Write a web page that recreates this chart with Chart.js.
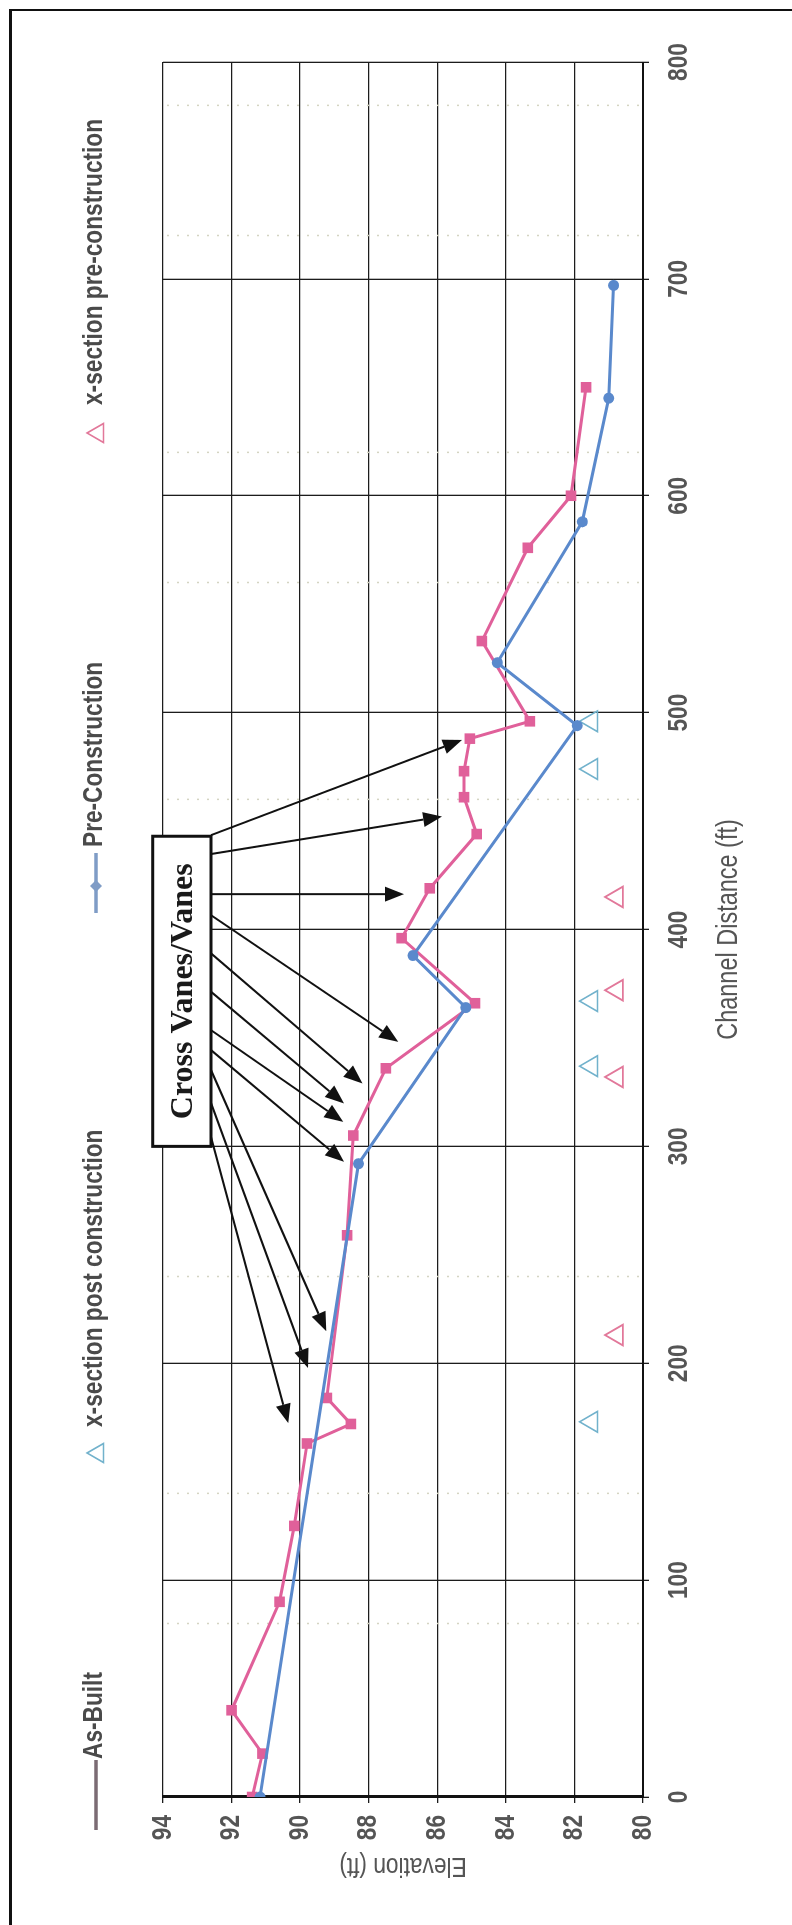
<!DOCTYPE html>
<html>
<head>
<meta charset="utf-8">
<script src="https://cdn.jsdelivr.net/npm/chart.js@4.4.1/dist/chart.umd.min.js"></script>
<style>
  html, body { margin: 0; padding: 0; background: #fff; }
  body { width: 792px; height: 1925px; position: relative; overflow: hidden; }
  #frame { position: absolute; left: 9px; top: 9px; width: 800px; height: 1930px;
           border-left: 3px solid #111; border-top: 2.5px solid #111; }
  /* the profile is laid out landscape and turned a quarter turn counter-clockwise */
  #wrap { position: absolute; left: 0; top: 0; width: 1925px; height: 792px;
          transform-origin: 0 0; transform: translate(0, 1925px) rotate(-90deg); }
</style>
</head>
<body>
<div id="frame"></div>
<div id="wrap"><canvas id="c" width="1925" height="792"></canvas></div>
<script>
// Channel distance (ft) and elevation (ft) axes
const distTicks = [0, 100, 200, 300, 400, 500, 600, 700, 800];
const elevTicks = [80, 82, 84, 86, 88, 90, 92, 94];

// As-Built thalweg profile
const asBuiltDist = [0, 20, 40, 90, 125, 163, 172, 184, 259, 305, 336, 366, 396, 419, 444, 461, 473, 488, 496, 533, 576, 600, 650];
const asBuiltElev = [91.4, 91.1, 92.0, 90.6, 90.17, 89.8, 88.52, 89.22, 88.63, 88.45, 87.5, 84.9, 87.04, 86.22, 84.85, 85.22, 85.22, 85.05, 83.3, 84.7, 83.36, 82.1, 81.66];

// Pre-Construction thalweg profile
const preDist = [0, 292, 364, 388, 494, 523, 588, 645, 697];
const preElev = [91.17, 88.3, 85.17, 86.71, 81.92, 84.25, 81.77, 81.0, 80.86];

// Cross-section locations
const postXsDist = [173, 337, 367, 474, 496];
const postXsElev = [81.5, 81.5, 81.5, 81.5, 81.5];
const preXsDist = [213, 332, 372, 415];
const preXsElev = [80.76, 80.76, 80.76, 80.76];

// faint dotted reference lines across the plot
const faintDist = [80, 140, 240, 460, 560, 620, 720, 780];

// "Cross Vanes/Vanes" call-out box and its leader arrows
const vaneBoxDist = [300, 443];
const vaneBoxElev = [94.3, 92.6];
const vaneFromDist = [443.5, 434.8, 416.3, 406.6, 389, 371.3, 353.6, 344.4, 335.2, 320, 304.3];
const vaneToDist = [487.4, 452.1, 416.3, 348.2, 329, 319.8, 311.3, 292.9, 214.8, 197.8, 172.4];
const vaneToElev = [85.28, 85.86, 86.97, 87.14, 88.18, 88.72, 88.74, 88.72, 89.24, 89.77, 90.35];

const SANS = '"Liberation Sans", Arial, sans-serif';
const SERIF = '"Liberation Serif", "Times New Roman", serif';
const CONDENSE = 0.81;   // sans labels are set narrow

const PINK = '#e0609a';
const BLUE = '#5a89cc';
const TEAL = '#72b2cc';
const PINK_TRI = '#e2789a';

const pts = (xs, ys) => xs.map((x, i) => ({ x: x, y: ys[i] }));

const legendItems = [
  { label: 'As-Built', kind: 'line', color: '#7b6b73', at: 95, len: 70, text: 166 },
  { label: 'x-section post construction', kind: 'tri', color: TEAL, at: 472, text: 498 },
  { label: 'Pre-Construction', kind: 'lineDot', color: '#7f9cc6', at: 1012, len: 60, text: 1078 },
  { label: 'x-section pre-construction', kind: 'tri', color: PINK_TRI, at: 1492, text: 1520 }
];

function triangle(ctx, cx, cy, r) {
  ctx.beginPath();
  ctx.moveTo(cx, cy - r);
  ctx.lineTo(cx + r * 0.866, cy + r * 0.5);
  ctx.lineTo(cx - r * 0.866, cy + r * 0.5);
  ctx.closePath();
}

// narrow rendering of the sans-serif labels (scaled along the text direction)
const condensePlugin = {
  id: 'condense',
  beforeInit(chart) {
    const ctx = chart.ctx;
    const orig = ctx.fillText.bind(ctx);
    ctx.fillText = function (text, x, y, maxWidth) {
      if (ctx.font.indexOf('Liberation Sans') < 0) {
        return maxWidth === undefined ? orig(text, x, y) : orig(text, x, y, maxWidth);
      }
      ctx.save();
      ctx.translate(x, y);
      ctx.scale(CONDENSE, 1);
      if (maxWidth === undefined) orig(text, 0, 0); else orig(text, 0, 0, maxWidth / CONDENSE);
      ctx.restore();
    };
  }
};

const legendPlugin = {
  id: 'sideLegend',
  afterDraw(chart) {
    const ctx = chart.ctx;
    const v = 94;
    ctx.save();
    legendItems.forEach(it => {
      ctx.strokeStyle = it.color;
      ctx.fillStyle = it.color;
      if (it.kind === 'line' || it.kind === 'lineDot') {
        ctx.lineWidth = 3.5;
        ctx.beginPath();
        ctx.moveTo(it.at, v + 2);
        ctx.lineTo(it.at + it.len, v + 2);
        ctx.stroke();
        if (it.kind === 'lineDot') {
          const cx = it.at + it.len * 0.45;
          ctx.beginPath();
          ctx.moveTo(cx, v + 2 - 6);
          ctx.lineTo(cx + 6, v + 2);
          ctx.lineTo(cx, v + 2 + 6);
          ctx.lineTo(cx - 6, v + 2);
          ctx.closePath();
          ctx.fill();
        }
      } else {
        ctx.lineWidth = 1.6;
        triangle(ctx, it.at, v + 4, 11);
        ctx.stroke();
      }
      ctx.fillStyle = '#4a4a4a';
      ctx.font = 'bold 28px ' + SANS;
      ctx.textAlign = 'left';
      ctx.textBaseline = 'middle';
      ctx.fillText(it.label, it.text, v);
    });
    ctx.restore();
  }
};

const faintPlugin = {
  id: 'faintLines',
  beforeDatasetsDraw(chart) {
    const { ctx, chartArea, scales } = chart;
    ctx.save();
    ctx.strokeStyle = '#d4d4c2';
    ctx.lineWidth = 1.5;
    ctx.setLineDash([2, 8]);
    faintDist.forEach(d => {
      const x = scales.x.getPixelForValue(d);
      ctx.beginPath();
      ctx.moveTo(x, chartArea.top + 4);
      ctx.lineTo(x, chartArea.bottom - 4);
      ctx.stroke();
    });
    ctx.restore();
  }
};

const vanePlugin = {
  id: 'vaneCallout',
  afterDraw(chart) {
    const { ctx, scales } = chart;
    const X = d => scales.x.getPixelForValue(d);
    const Y = e => scales.y.getPixelForValue(e);
    ctx.save();
    ctx.strokeStyle = '#111';
    ctx.fillStyle = '#111';
    ctx.lineWidth = 2;
    const edge = vaneBoxElev[1];
    vaneFromDist.forEach((d, i) => {
      const x0 = X(d), y0 = Y(edge);
      const x1 = X(vaneToDist[i]), y1 = Y(vaneToElev[i]);
      const ang = Math.atan2(y1 - y0, x1 - x0);
      const L = 19, W = 7.5;
      const bx = x1 - L * Math.cos(ang), by = y1 - L * Math.sin(ang);
      ctx.beginPath();
      ctx.moveTo(x0, y0);
      ctx.lineTo(bx, by);
      ctx.stroke();
      ctx.beginPath();
      ctx.moveTo(x1, y1);
      ctx.lineTo(bx + W * Math.sin(ang), by - W * Math.cos(ang));
      ctx.lineTo(bx - W * Math.sin(ang), by + W * Math.cos(ang));
      ctx.closePath();
      ctx.fill();
    });
    const bx0 = X(vaneBoxDist[0]), bx1 = X(vaneBoxDist[1]);
    const by0 = Y(vaneBoxElev[0]), by1 = Y(vaneBoxElev[1]);
    ctx.fillStyle = '#fff';
    ctx.fillRect(bx0, by0, bx1 - bx0, by1 - by0);
    ctx.lineWidth = 3;
    ctx.strokeRect(bx0, by0, bx1 - bx0, by1 - by0);
    ctx.fillStyle = '#1a1a1a';
    ctx.font = 'bold 32px ' + SERIF;
    ctx.textAlign = 'center';
    ctx.textBaseline = 'middle';
    ctx.fillText('Cross Vanes/Vanes', (bx0 + bx1) / 2, (by0 + by1) / 2 + 2);
    ctx.restore();
  }
};

new Chart(document.getElementById('c'), {
  type: 'line',
  data: {
    datasets: [
      {
        label: 'Pre-Construction',
        data: pts(preDist, preElev),
        borderColor: BLUE,
        backgroundColor: BLUE,
        borderWidth: 3,
        pointStyle: 'circle',
        pointRadius: 5.5,
        pointBorderWidth: 0,
        tension: 0,
        order: 1
      },
      {
        label: 'As-Built',
        data: pts(asBuiltDist, asBuiltElev),
        borderColor: PINK,
        backgroundColor: PINK,
        borderWidth: 3,
        pointStyle: 'rect',
        pointRadius: 7.5,
        pointBorderWidth: 0,
        tension: 0,
        order: 2
      },
      {
        label: 'x-section post construction',
        data: pts(postXsDist, postXsElev),
        showLine: false,
        borderColor: TEAL,
        backgroundColor: 'rgba(0,0,0,0)',
        pointStyle: 'triangle',
        pointRadius: 12,
        pointBorderWidth: 1.6,
        order: 3
      },
      {
        label: 'x-section pre-construction',
        data: pts(preXsDist, preXsElev),
        showLine: false,
        borderColor: PINK_TRI,
        backgroundColor: 'rgba(0,0,0,0)',
        pointStyle: 'triangle',
        pointRadius: 12,
        pointBorderWidth: 1.8,
        order: 4
      }
    ]
  },
  options: {
    responsive: false,
    animation: false,
    devicePixelRatio: 1,
    layout: { padding: { top: 163, right: 62, left: 0, bottom: 0 } },
    plugins: {
      legend: { display: false },
      tooltip: { enabled: false }
    },
    scales: {
      x: {
        type: 'linear',
        min: distTicks[0],
        max: distTicks[distTicks.length - 1],
        afterBuildTicks: s => { s.ticks = distTicks.map(v => ({ value: v })); },
        afterFit: s => { s.height = 149; },
        grid: { color: '#1c1c1c', lineWidth: 1.3, tickLength: 6, drawTicks: true },
        border: { display: true, color: '#111', width: 2 },
        ticks: {
          color: '#555',
          padding: 13,
          maxRotation: 0,
          font: { family: SANS, size: 28, weight: 'bold' }
        },
        title: {
          display: true,
          text: 'Channel Distance (ft)',
          color: '#555',
          font: { family: SANS, size: 29, weight: 'normal' },
          padding: { top: 0, bottom: 46 }
        }
      },
      y: {
        type: 'linear',
        min: elevTicks[0],
        max: elevTicks[elevTicks.length - 1],
        afterBuildTicks: s => { s.ticks = elevTicks.map(v => ({ value: v })); },
        afterFit: s => { s.width = 128; },
        grid: { color: '#1c1c1c', lineWidth: 1.3, tickLength: 6, drawTicks: true },
        border: { display: true, color: '#111', width: 3 },
        ticks: {
          color: '#555',
          padding: 12,
          font: { family: SANS, size: 28, weight: 'bold' }
        },
        title: {
          display: true,
          text: 'Elevation (ft)',
          color: '#555',
          font: { family: SANS, size: 28, weight: 'normal' },
          padding: { top: 42, bottom: 0 }
        }
      }
    }
  },
  plugins: [condensePlugin, faintPlugin, vanePlugin, legendPlugin]
});
</script>
</body>
</html>
